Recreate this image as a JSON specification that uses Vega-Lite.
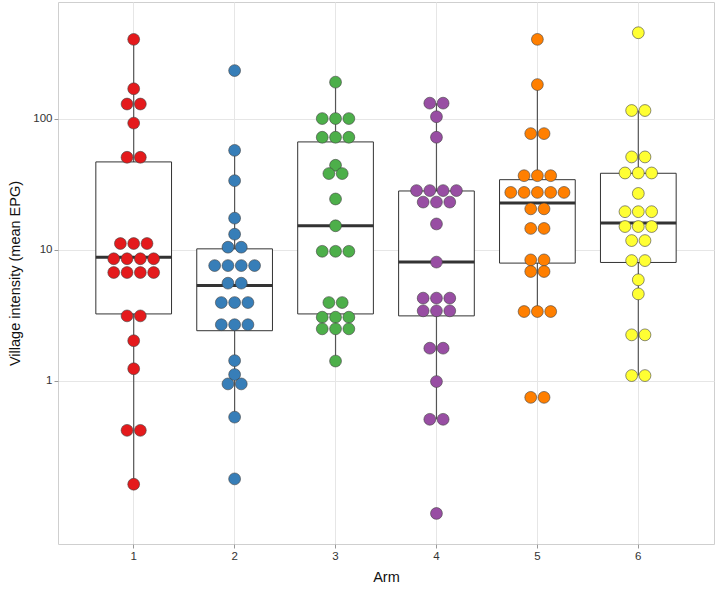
{
  "$schema": "https://vega.github.io/schema/vega-lite/v6.json",
  "width": 656,
  "height": 542,
  "autosize": {"type": "none"},
  "padding": {"left": 58, "top": 2, "right": 3, "bottom": 46},
  "background": "white",
  "config": {
    "view": {"stroke": "#cfcfcf", "strokeWidth": 1},
    "axis": {
      "labelFont": "Liberation Sans",
      "titleFont": "Liberation Sans",
      "labelFontSize": 11.5,
      "titleFontSize": 14.5,
      "titleFontWeight": "normal",
      "labelColor": "#333333",
      "titleColor": "#111111",
      "gridColor": "#e6e6e6",
      "gridWidth": 1,
      "domainColor": "#bdbdbd",
      "tickColor": "#999999",
      "tickSize": 4,
      "labelPadding": 2
    }
  },
  "datasets": {
    "boxes": [
      {"arm": 1, "lower": 0.163, "q1": 3.25, "median": 8.8, "q3": 47, "upper": 405},
      {"arm": 2, "lower": 0.53, "q1": 2.42, "median": 5.35, "q3": 10.2, "upper": 57.6},
      {"arm": 3, "lower": 1.42, "q1": 3.25, "median": 15.3, "q3": 66.8, "upper": 191},
      {"arm": 4, "lower": 0.51, "q1": 3.14, "median": 8.1, "q3": 28.2, "upper": 132},
      {"arm": 5, "lower": 3.39, "q1": 7.94, "median": 22.8, "q3": 34.4, "upper": 183},
      {"arm": 6, "lower": 1.10, "q1": 8.03, "median": 16.1, "q3": 38.5, "upper": 116}
    ],
    "dots": [
      {"arm": 1, "epg": 405}, {"arm": 1, "epg": 170}, {"arm": 1, "epg": 130}, {"arm": 1, "epg": 130},
      {"arm": 1, "epg": 93}, {"arm": 1, "epg": 51}, {"arm": 1, "epg": 51},
      {"arm": 1, "epg": 11.2}, {"arm": 1, "epg": 11.2}, {"arm": 1, "epg": 11.2},
      {"arm": 1, "epg": 8.57}, {"arm": 1, "epg": 8.57}, {"arm": 1, "epg": 8.57}, {"arm": 1, "epg": 8.57},
      {"arm": 1, "epg": 6.73}, {"arm": 1, "epg": 6.73}, {"arm": 1, "epg": 6.73}, {"arm": 1, "epg": 6.73},
      {"arm": 1, "epg": 3.14}, {"arm": 1, "epg": 3.14}, {"arm": 1, "epg": 2.03}, {"arm": 1, "epg": 1.24},
      {"arm": 1, "epg": 0.42}, {"arm": 1, "epg": 0.42}, {"arm": 1, "epg": 0.163},

      {"arm": 2, "epg": 234}, {"arm": 2, "epg": 57.6}, {"arm": 2, "epg": 33.8}, {"arm": 2, "epg": 17.5},
      {"arm": 2, "epg": 13.2}, {"arm": 2, "epg": 10.5}, {"arm": 2, "epg": 10.5},
      {"arm": 2, "epg": 7.6}, {"arm": 2, "epg": 7.6}, {"arm": 2, "epg": 7.6}, {"arm": 2, "epg": 7.6},
      {"arm": 2, "epg": 5.58}, {"arm": 2, "epg": 5.58},
      {"arm": 2, "epg": 3.97}, {"arm": 2, "epg": 3.97}, {"arm": 2, "epg": 3.97},
      {"arm": 2, "epg": 2.69}, {"arm": 2, "epg": 2.69}, {"arm": 2, "epg": 2.69},
      {"arm": 2, "epg": 1.43}, {"arm": 2, "epg": 1.12}, {"arm": 2, "epg": 0.95}, {"arm": 2, "epg": 0.95},
      {"arm": 2, "epg": 0.53}, {"arm": 2, "epg": 0.179},

      {"arm": 3, "epg": 191}, {"arm": 3, "epg": 100.7}, {"arm": 3, "epg": 100.7}, {"arm": 3, "epg": 100.7},
      {"arm": 3, "epg": 72.5}, {"arm": 3, "epg": 72.5}, {"arm": 3, "epg": 72.5},
      {"arm": 3, "epg": 44.3}, {"arm": 3, "epg": 38.3}, {"arm": 3, "epg": 38.3},
      {"arm": 3, "epg": 24.5}, {"arm": 3, "epg": 15.3},
      {"arm": 3, "epg": 9.77}, {"arm": 3, "epg": 9.77}, {"arm": 3, "epg": 9.77},
      {"arm": 3, "epg": 3.97}, {"arm": 3, "epg": 3.97},
      {"arm": 3, "epg": 3.07}, {"arm": 3, "epg": 3.07}, {"arm": 3, "epg": 3.07},
      {"arm": 3, "epg": 2.5}, {"arm": 3, "epg": 2.5}, {"arm": 3, "epg": 2.5}, {"arm": 3, "epg": 1.42},

      {"arm": 4, "epg": 132}, {"arm": 4, "epg": 132}, {"arm": 4, "epg": 104}, {"arm": 4, "epg": 72.5},
      {"arm": 4, "epg": 28.4}, {"arm": 4, "epg": 28.4}, {"arm": 4, "epg": 28.4}, {"arm": 4, "epg": 28.4},
      {"arm": 4, "epg": 23.2}, {"arm": 4, "epg": 23.2}, {"arm": 4, "epg": 23.2},
      {"arm": 4, "epg": 15.8}, {"arm": 4, "epg": 8.08},
      {"arm": 4, "epg": 4.29}, {"arm": 4, "epg": 4.29}, {"arm": 4, "epg": 4.29},
      {"arm": 4, "epg": 3.43}, {"arm": 4, "epg": 3.43}, {"arm": 4, "epg": 3.43},
      {"arm": 4, "epg": 1.78}, {"arm": 4, "epg": 1.78}, {"arm": 4, "epg": 0.99},
      {"arm": 4, "epg": 0.51}, {"arm": 4, "epg": 0.51}, {"arm": 4, "epg": 0.0975},

      {"arm": 5, "epg": 405}, {"arm": 5, "epg": 183}, {"arm": 5, "epg": 77.3}, {"arm": 5, "epg": 77.3},
      {"arm": 5, "epg": 36.9}, {"arm": 5, "epg": 36.9}, {"arm": 5, "epg": 36.9},
      {"arm": 5, "epg": 27.5}, {"arm": 5, "epg": 27.5}, {"arm": 5, "epg": 27.5}, {"arm": 5, "epg": 27.5}, {"arm": 5, "epg": 27.5},
      {"arm": 5, "epg": 20.6}, {"arm": 5, "epg": 20.6}, {"arm": 5, "epg": 14.6}, {"arm": 5, "epg": 14.6},
      {"arm": 5, "epg": 8.4}, {"arm": 5, "epg": 8.4}, {"arm": 5, "epg": 6.85}, {"arm": 5, "epg": 6.85},
      {"arm": 5, "epg": 3.39}, {"arm": 5, "epg": 3.39}, {"arm": 5, "epg": 3.39},
      {"arm": 5, "epg": 0.75}, {"arm": 5, "epg": 0.75},

      {"arm": 6, "epg": 455}, {"arm": 6, "epg": 116}, {"arm": 6, "epg": 116},
      {"arm": 6, "epg": 51.3}, {"arm": 6, "epg": 51.3},
      {"arm": 6, "epg": 38.7}, {"arm": 6, "epg": 38.7}, {"arm": 6, "epg": 38.7},
      {"arm": 6, "epg": 27},
      {"arm": 6, "epg": 19.6}, {"arm": 6, "epg": 19.6}, {"arm": 6, "epg": 19.6},
      {"arm": 6, "epg": 15.1}, {"arm": 6, "epg": 15.1}, {"arm": 6, "epg": 15.1},
      {"arm": 6, "epg": 11.8}, {"arm": 6, "epg": 11.8}, {"arm": 6, "epg": 8.3}, {"arm": 6, "epg": 8.3},
      {"arm": 6, "epg": 5.92}, {"arm": 6, "epg": 4.62},
      {"arm": 6, "epg": 2.25}, {"arm": 6, "epg": 2.25}, {"arm": 6, "epg": 1.1}, {"arm": 6, "epg": 1.1}
    ]
  },
  "encoding": {
    "x": {
      "field": "arm",
      "type": "nominal",
      "scale": {"type": "band", "paddingInner": 0, "paddingOuter": 0.25},
      "axis": {"title": "Arm", "labelAngle": 0, "grid": true, "domain": false, "titlePadding": 9}
    }
  },
  "layer": [
    {
      "data": {"name": "boxes"},
      "mark": {"type": "rule", "color": "#555555", "strokeWidth": 1.2},
      "encoding": {
        "y": {
          "field": "lower",
          "type": "quantitative",
          "scale": {"type": "log", "domain": [0.057, 781], "nice": false},
          "axis": {"title": "Village intensity (mean EPG)", "values": [1, 10, 100], "format": "d", "grid": true, "domain": false, "titlePadding": 10}
        },
        "y2": {"field": "upper"}
      }
    },
    {
      "data": {"name": "boxes"},
      "mark": {"type": "bar", "size": 75.7, "fill": "white", "stroke": "#333333", "strokeWidth": 1},
      "encoding": {
        "y": {"field": "q1", "type": "quantitative"},
        "y2": {"field": "q3"}
      }
    },
    {
      "data": {"name": "boxes"},
      "mark": {"type": "tick", "size": 75.7, "thickness": 3, "color": "#333333", "opacity": 1},
      "encoding": {
        "y": {"field": "median", "type": "quantitative"}
      }
    },
    {
      "data": {"name": "dots"},
      "transform": [
        {"window": [{"op": "count", "as": "one"}], "frame": [0, 0], "groupby": ["arm", "epg"]},
        {"stack": "one", "groupby": ["arm", "epg"], "offset": "center", "as": ["s0", "s1"]}
      ],
      "mark": {"type": "circle", "size": 140, "opacity": 1, "stroke": "#404040", "strokeWidth": 0.7, "strokeOpacity": 0.85},
      "encoding": {
        "xOffset": {"field": "s0", "type": "quantitative", "scale": {"domain": [-1.793, 5.793], "nice": false, "zero": false}},
        "y": {"field": "epg", "type": "quantitative"},
        "color": {
          "field": "arm",
          "type": "nominal",
          "scale": {"domain": [1, 2, 3, 4, 5, 6], "range": ["#E41A1C", "#377EB8", "#4DAF4A", "#984EA3", "#FF7F00", "#FFFF33"]},
          "legend": null
        }
      }
    }
  ]
}
